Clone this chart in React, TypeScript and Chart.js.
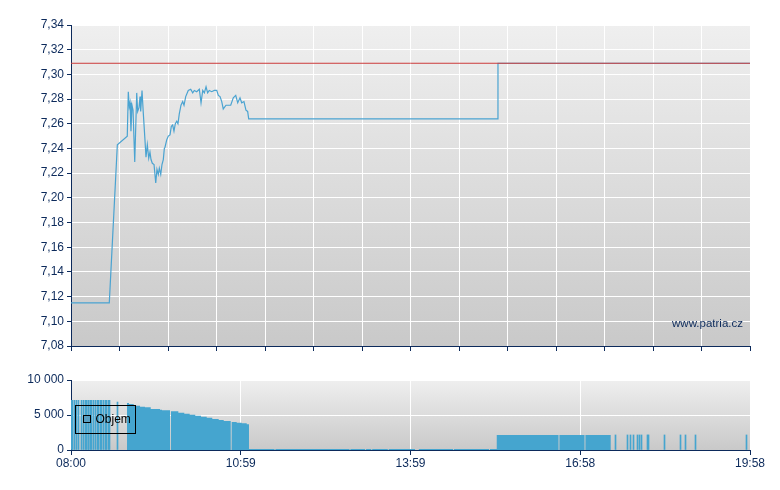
import React, { useEffect, useRef } from 'react';
import { Chart, registerables } from 'chart.js';

Chart.register(...registerables);

// ---- data (minutes after 08:00) ----
const sessionStart = 480; // 08:00
const sessionLength = 718; // until 19:58

const priceTimes = [
  0, 40.5, 49, 59.5, 60.6, 61.6, 62.4, 63.4, 64.5, 65.6, 67.4, 69.5, 70.5, 71.9, 73, 73.7,
  75.1, 76.5, 78.2, 79.3, 80.7, 82.2, 83.5, 84.6, 86, 87.8, 89.6, 90.9, 92.3, 93.4, 94.9,
  96.2, 97.6, 98.7, 99.4, 101.2, 102.9, 104.7, 106.1, 107.5, 108.9, 110.3, 111.8, 113.1,
  114.5, 116.3, 118.1, 119.5, 121.3, 124, 126.6, 128.7, 130.4, 132.9, 135.7, 137.5, 139.3,
  141, 142.8, 144.5, 146.2, 148.8, 151.5, 154.1, 155.8, 157.6, 159.4, 161, 163.9, 166.3,
  168.9, 171.6, 174.2, 176.3, 178.7, 180.5, 182.9, 185, 186.8, 187.9, 450.5, 451.5, 718,
];
const priceValues = [
  7.115, 7.115, 7.243, 7.25, 7.286, 7.274, 7.277, 7.254, 7.275, 7.271, 7.229, 7.285, 7.27,
  7.273, 7.282, 7.27, 7.287, 7.268, 7.247, 7.233, 7.243, 7.232, 7.237, 7.231, 7.228, 7.227,
  7.212, 7.223, 7.219, 7.224, 7.219, 7.227, 7.231, 7.24, 7.241, 7.247, 7.25, 7.251, 7.258,
  7.259, 7.254, 7.26, 7.262, 7.26, 7.268, 7.275, 7.278, 7.275, 7.282, 7.287, 7.288, 7.285,
  7.287, 7.286, 7.288, 7.277, 7.287, 7.285, 7.29, 7.285, 7.287, 7.286, 7.287, 7.287, 7.283,
  7.282, 7.278, 7.272, 7.275, 7.275, 7.275, 7.281, 7.283, 7.277, 7.281, 7.277, 7.278, 7.271,
  7.27, 7.264, 7.264, 7.309, 7.309,
];
const previousClose = 7.309;

// volume blocks (each value holds until the next time)
const volTimes = [
  59.2, 61.3, 66.3, 73, 78.2, 84.3, 94.1, 96.2, 104.7, 105.7, 113.5, 119.8, 125.5, 131.4,
  137.5, 143.5, 149.4, 156.2, 161.5, 168.9, 169.9, 175.2, 180.5, 185.8, 188.2, 215.2, 216.2,
  294.5, 295.5, 311, 312, 317.5, 318.5, 335, 336, 363.8, 367.8, 404, 405, 442, 443, 450.2,
  515.5, 516.5, 543, 544, 570.7, 718,
];
const volValues = [
  6710, 6570, 6330, 6190, 6100, 5860, 5760, 5670, 0, 5520, 5330, 5190, 5050, 4900, 4760,
  4620, 4430, 4290, 4140, 0, 4000, 3900, 3810, 3670, 150, 0, 150, 0, 150, 0, 150, 0, 150, 0,
  150, 0, 150, 0, 150, 0, 150, 2150, 0, 2150, 0, 2150, 0, 0,
];
// single trades (thin bars)
const spikeTimes = [
  0.5, 1.5, 3.2, 5.6, 8.1, 10.6, 13, 15.3, 16.9, 18, 19, 20.6, 22.2, 23.8, 25.7, 27.5, 29.1,
  30.7, 32.5, 34.2, 36, 37.7, 39.7, 41.2, 49, 575.6, 588.7, 591.4, 595.3, 598.8, 600.9, 603,
  609.4, 610.5, 627.4, 644.3, 649.6, 660.2, 713.8,
];
const spikeValues = [
  7100, 7100, 7100, 7100, 7100, 7100, 7100, 7100, 7100, 7100, 7100, 7100, 7100, 7100, 7100,
  7100, 7100, 7100, 7100, 7100, 7100, 7100, 7100, 7100, 6850, 2150, 2150, 2150, 2150, 2150,
  2150, 2150, 2150, 2150, 2150, 2150, 2150, 2150, 2150,
];

const timeTickLabels = ['08:00', '10:59', '13:59', '16:58', '19:58'];
const topGridDivisions = 14;

// ---- styling ----
const NAVY = '#0c2a5b';
const BLUE_LINE = '#4aa3d1';
const BLUE_BAR = '#45a5cf';
const RED = '#cc3b3b';
const FONT = '"Liberation Sans", Arial, sans-serif';

const bgPlugin = {
  id: 'bgGradient',
  beforeDraw(chart: any) {
    const { ctx, chartArea: a } = chart;
    const g = ctx.createLinearGradient(0, a.top, 0, a.bottom);
    g.addColorStop(0, '#efefef');
    g.addColorStop(1, '#c9c9c9');
    ctx.save();
    ctx.fillStyle = g;
    ctx.fillRect(a.left, a.top, a.right - a.left, a.bottom - a.top);
    ctx.restore();
  },
};

// keep thin volume bars crisp on the pixel grid
const snapBarsPlugin = {
  id: 'snapBars',
  beforeDatasetsDraw(chart: any) {
    chart.data.datasets.forEach((_d: any, i: number) => {
      const meta = chart.getDatasetMeta(i);
      if (meta.type !== 'bar') return;
      meta.data.forEach((el: any) => {
        el.x = Math.floor(el.x) + 0.5;
      });
    });
  },
};

const watermarkPlugin = {
  id: 'watermark',
  afterDraw(chart: any) {
    const { ctx, chartArea: a } = chart;
    ctx.save();
    ctx.fillStyle = NAVY;
    ctx.font = `11.5px ${FONT}`;
    ctx.textAlign = 'right';
    ctx.textBaseline = 'middle';
    ctx.fillText('www.patria.cz', a.right - 7, a.bottom - 22.5);
    ctx.restore();
  },
};

const legendPlugin = {
  id: 'boxLegend',
  afterDraw(chart: any) {
    const { ctx, chartArea: a } = chart;
    const x = a.left + 4.5;
    const y = a.top + 25.5;
    ctx.save();
    ctx.strokeStyle = '#000';
    ctx.lineWidth = 1;
    ctx.strokeRect(x, y, 60, 28);
    ctx.fillStyle = '#5a9fc2';
    ctx.fillRect(x + 8, y + 10, 7, 7);
    ctx.strokeRect(x + 8, y + 10, 7, 7);
    ctx.fillStyle = '#000';
    ctx.font = `12px ${FONT}`;
    ctx.textBaseline = 'middle';
    ctx.fillText('Objem', x + 20, y + 14.5);
    ctx.restore();
  },
};

const fmtThousands = (v: number) =>
  String(Math.round(v)).replace(/\B(?=(\d{3})+(?!\d))/g, ' ');

export default function App() {
  const topRef = useRef<HTMLCanvasElement>(null);
  const botRef = useRef<HTMLCanvasElement>(null);

  useEffect(() => {
    Chart.defaults.font.family = FONT;
    const topGrid = Array.from(
      { length: topGridDivisions + 1 },
      (_, i) => (i * sessionLength) / topGridDivisions
    );
    const labelTicks = timeTickLabels.map(
      (_, i) => (i * sessionLength) / (timeTickLabels.length - 1)
    );

    const c1 = new Chart(topRef.current as HTMLCanvasElement, {
      type: 'line',
      data: {
        datasets: [
          {
            data: [
              { x: 0, y: previousClose },
              { x: sessionLength, y: previousClose },
            ],
            borderColor: RED,
            borderWidth: 1,
            pointRadius: 0,
          },
          {
            data: priceTimes.map((t, i) => ({ x: t, y: priceValues[i] })),
            borderColor: BLUE_LINE,
            borderWidth: 1.2,
            pointRadius: 0,
            tension: 0,
          },
        ],
      },
      options: {
        responsive: false,
        animation: false,
        devicePixelRatio: 1,
        events: [],
        layout: { padding: { left: 0, right: 30, top: 25, bottom: 0 } },
        plugins: { legend: { display: false }, tooltip: { enabled: false } },
        scales: {
          x: {
            type: 'linear',
            min: 0,
            max: sessionLength,
            afterBuildTicks: (s: any) => {
              s.ticks = topGrid.map((v) => ({ value: v }));
            },
            afterFit: (s: any) => {
              s.height = 14;
            },
            ticks: { display: false },
            grid: { color: '#ffffff', lineWidth: 1, tickLength: 5, tickColor: NAVY },
            border: { color: NAVY, width: 1 },
          },
          y: {
            min: 7.08,
            max: 7.34,
            afterFit: (s: any) => {
              s.width = 71;
            },
            ticks: {
              stepSize: 0.02,
              color: NAVY,
              padding: 3,
              font: { size: 12, family: FONT },
              callback: (v: any) => Number(v).toFixed(2).replace('.', ','),
            },
            grid: { color: '#ffffff', lineWidth: 1, tickLength: 4, tickColor: NAVY },
            border: { color: NAVY, width: 1 },
          },
        },
      } as any,
      plugins: [bgPlugin, watermarkPlugin],
    });

    const c2 = new Chart(botRef.current as HTMLCanvasElement, {
      type: 'bar',
      data: {
        datasets: [
          {
            type: 'line',
            data: volTimes.map((t, i) => ({ x: t, y: volValues[i] })),
            stepped: 'before',
            fill: 'origin',
            backgroundColor: BLUE_BAR,
            borderColor: 'rgba(0,0,0,0)',
            borderWidth: 0,
            pointRadius: 0,
          } as any,
          {
            type: 'bar',
            data: spikeTimes.map((t, i) => ({ x: t, y: spikeValues[i] })),
            backgroundColor: BLUE_BAR,
            barThickness: 1,
          } as any,
        ],
      },
      options: {
        responsive: false,
        animation: false,
        devicePixelRatio: 1,
        events: [],
        layout: { padding: { left: 0, right: 30, top: 20, bottom: 0 } },
        plugins: { legend: { display: false }, tooltip: { enabled: false } },
        scales: {
          x: {
            type: 'linear',
            min: 0,
            max: sessionLength,
            offset: false,
            afterBuildTicks: (s: any) => {
              s.ticks = labelTicks.map((v) => ({ value: v }));
            },
            afterFit: (s: any) => {
              s.height = 40;
            },
            ticks: {
              autoSkip: false,
              maxRotation: 0,
              color: NAVY,
              padding: 1,
              font: { size: 12, family: FONT },
              callback: (_v: any, i: number) => timeTickLabels[i],
            },
            grid: { offset: false, color: '#ffffff', lineWidth: 1, tickLength: 5, tickColor: NAVY },
            border: { color: NAVY, width: 1 },
          },
          y: {
            min: 0,
            max: 10000,
            afterFit: (s: any) => {
              s.width = 71;
            },
            ticks: {
              stepSize: 5000,
              color: NAVY,
              padding: 3,
              font: { size: 12, family: FONT },
              callback: (v: any) => fmtThousands(Number(v)),
            },
            grid: { color: '#ffffff', lineWidth: 1, tickLength: 4, tickColor: NAVY },
            border: { color: NAVY, width: 1 },
          },
        },
      } as any,
      plugins: [bgPlugin, snapBarsPlugin, legendPlugin],
    });

    return () => {
      c1.destroy();
      c2.destroy();
    };
  }, []);

  return (
    <div style={{ position: 'absolute', left: 0, top: 0, width: 780, height: 490, background: '#ffffff' }}>
      <canvas ref={topRef} width={780} height={360} style={{ position: 'absolute', left: 0, top: 0, display: 'block' }} />
      <canvas ref={botRef} width={780} height={130} style={{ position: 'absolute', left: 0, top: 360, display: 'block' }} />
    </div>
  );
}
